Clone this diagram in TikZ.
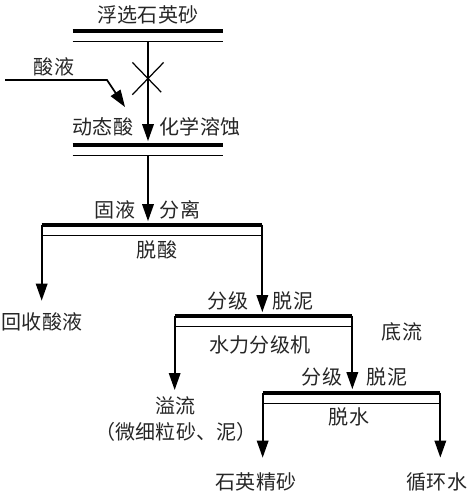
\documentclass[tikz,border=0pt]{standalone}
\usepackage{fontspec}
\setmainfont{Noto Sans CJK SC}
\usetikzlibrary{arrows.meta, positioning, shapes.misc}
\tikzstyle{bar} = [
    rectangle,
    inner sep=0pt,
    minimum height=0.2cm
]
\tikzstyle{txt} = [inner sep=1pt, text=black!85, font=\fontsize{11.4pt}{13pt}\selectfont]
\tikzstyle{flow} = [line width=1pt, -{Triangle[length=0.34cm, width=0.23cm]}]

\begin{document}
\begin{tikzpicture}[x=0.02cm, y=-0.02cm]
    \useasboundingbox (0,0) rectangle (474,497);
    % Balken
    \node (feedbar) [bar, minimum width=3cm] at (148,36) {};
    \node (etchbar) [bar, minimum width=3cm] at (148,150) {};
    \node (sepbar) [bar, minimum width=4.4cm] at (152,230) {};
    \node (hydrobar) [bar, minimum width=3.54cm] at (263.5,321) {};
    \node (dewbar) [bar, minimum width=3.54cm] at (351.5,398) {};
    \foreach \b in {feedbar, etchbar, sepbar, hydrobar, dewbar} {
        \draw [line width=2.3pt] (\b.north west) -- (\b.north east);
        \draw [line width=0.8pt] (\b.south west) -- (\b.south east);
    }
    % Texte
    \node (feed) [txt] at (148,15) {浮选石英砂};
    \node (acid) [txt] at (54,67) {酸液};
    \node (etchl) [txt] at (103,127) {动态酸};
    \node (etchr) [txt] at (200,127) {化学溶蚀};
    \node (sepl) [txt] at (115,210) {固液};
    \node (sepr) [txt] at (180,210) {分离};
    \node (deacid) [txt] at (157,250) {脱酸};
    \node (recover) [txt] at (42,322) {回收酸液};
    \node (grade1) [txt] at (228,301) {分级};
    \node (desl1) [txt] at (293,301) {脱泥};
    \node (hydro) [txt] at (260,345) {水力分级机};
    \node (under) [txt] at (402,332) {底流};
    \node (grade2) [txt] at (322,377) {分级};
    \node (desl2) [txt] at (387,377) {脱泥};
    \node (dewater) [txt] at (349,417) {脱水};
    \node (overflow) [txt, align=center, font=\fontsize{11.4pt}{14.7pt}\selectfont, anchor=north] at (176,395) {溢流\\（微细粒砂、泥）};
    \node (quartz) [txt] at (256,482) {石英精砂};
    \node (water) [txt] at (437,482) {循环水};
    % Pfeile
    \coordinate (acidin) at (5,80);
    \coordinate (acidbend) at (107,80);
    \coordinate (acidtip) at (125,107);
    \draw [flow] (acidin) -- (acidbend) -- (acidtip);
    \draw [flow, shorten >=2pt] (feedbar.south) -- node[pos=0.36, cross out, draw, line width=0.7pt, minimum width=0.6cm, minimum height=0.62cm] (cross) {} (etchbar.north);
    \draw [flow, shorten >=2pt] (etchbar.south) -- (etchbar.south |- sepbar.north);
    \draw [flow, shorten >=0.2cm] (sepbar.north west) -- (sepbar.north west |- recover.north);
    \draw [flow, shorten >=2pt] (sepbar.north east) -- (sepbar.north east |- hydrobar.north);
    \draw [flow, shorten >=0.1cm] (hydrobar.north west) -- (hydrobar.north west |- overflow.north);
    \draw [flow, shorten >=2pt] (hydrobar.north east) -- (hydrobar.north east |- dewbar.north);
    \draw [flow, shorten >=0.26cm] (dewbar.north west) -- (dewbar.north west |- quartz.north);
    \draw [flow, shorten >=0.26cm] (dewbar.north east) -- (dewbar.north east |- water.north);
\end{tikzpicture}
\end{document}
